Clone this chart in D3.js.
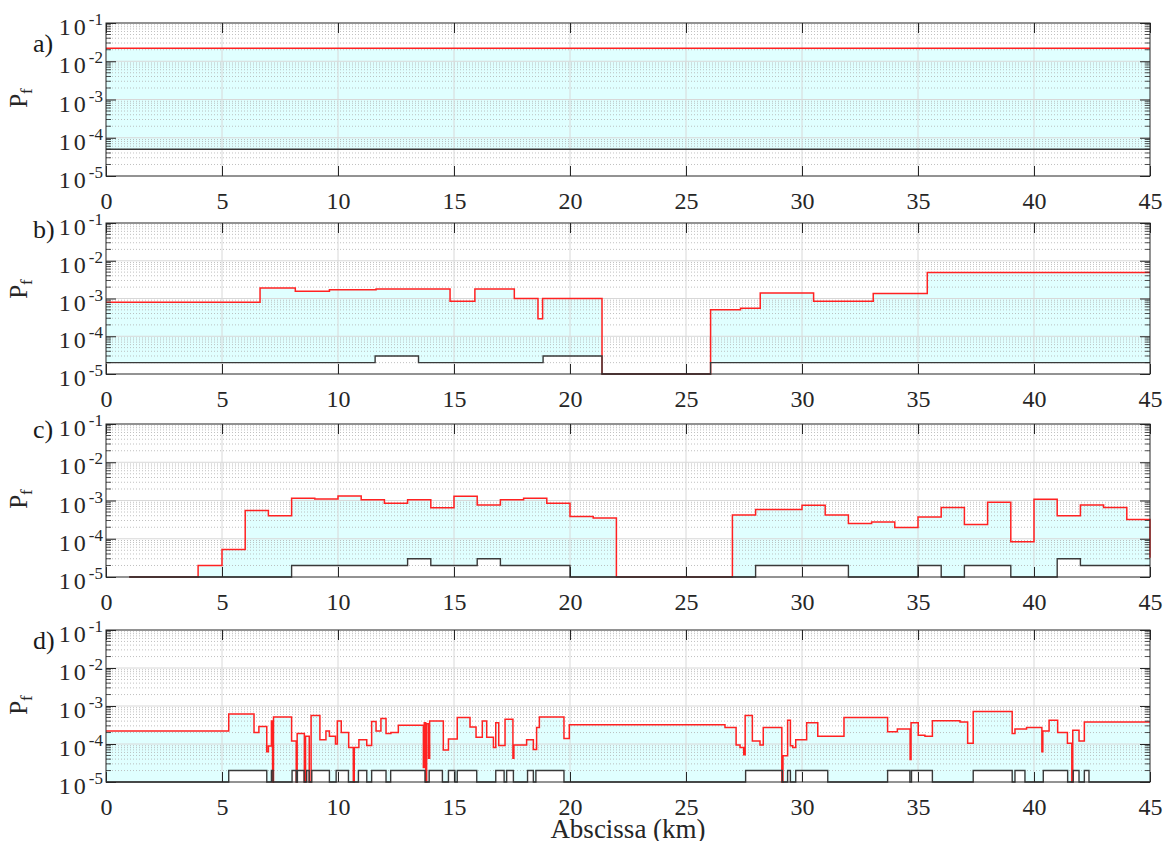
<!DOCTYPE html>
<html>
<head>
<meta charset="utf-8">
<script src="https://cdn.jsdelivr.net/npm/d3@7"></script>
<style>
  body { margin: 0; background: #fff; }
  svg { display: block; }
</style>
</head>
<body>
<svg id="chart" width="1164" height="841"></svg>
<script>
// ---- data (step functions: value holds from x[i] to x[i+1]) ----
const xTicks = [0, 5, 10, 15, 20, 25, 30, 35, 40, 45];
const yTicks = [1e-5, 1e-4, 1e-3, 1e-2, 1e-1];
const yTickExp = ['-5', '-4', '-3', '-2', '-1'];
const panelNames = ['a)', 'b)', 'c)', 'd)'];

// a)
const aRedX = [0, 45];
const aRed = [0.022, 0.022];
const aBlackX = [0, 45];
const aBlack = [5e-5, 5e-5];

// b)
const bRedX = [0, 6.64, 8.16, 9.63, 11.64, 14.83, 15.9, 17.6, 18.62, 18.82, 21.38, 26.06, 27.35, 28.2, 30.5, 33.07, 35.4, 45];
const bRed = [8e-4, 1.9e-3, 1.55e-3, 1.7e-3, 1.78e-3, 8.5e-4, 1.78e-3, 1e-3, 2.9e-4, 1e-3, 1e-5, 5e-4, 5.5e-4, 1.4e-3, 8.5e-4, 1.35e-3, 4.9e-3, 4.9e-3];
const bBlackX = [0, 11.6, 13.47, 18.84, 21.38, 26.06, 45];
const bBlack = [2e-5, 3e-5, 2e-5, 3e-5, 1e-5, 2e-5, 2e-5];

// c)
const cRedX = [1, 3.97, 5, 6, 7, 8, 9, 10, 11, 12, 13, 14, 15, 16, 17, 18, 19, 20, 21, 22, 27, 28, 30, 31, 32, 33, 34, 35, 36, 37, 38, 39, 40, 41, 42, 43, 44, 45];
const cRed = [1e-5, 2e-5, 5.2e-5, 5.5e-4, 4e-4, 1.14e-3, 1.1e-3, 1.32e-3, 1.04e-3, 8.5e-4, 1.04e-3, 6.5e-4, 1.3e-3, 7.6e-4, 1.05e-3, 1.14e-3, 8.5e-4, 3.8e-4, 3.5e-4, 1e-5, 4.2e-4, 5.8e-4, 7.5e-4, 4.2e-4, 2.5e-4, 2.75e-4, 1.96e-4, 3.7e-4, 6.6e-4, 2.35e-4, 9e-4, 8.3e-5, 1.08e-3, 4e-4, 7.6e-4, 6.6e-4, 3.2e-4, 3.2e-5];
const cBlackX = [1, 8, 13, 14, 16, 17, 20, 28, 32, 35, 36, 37, 39, 41, 42, 45];
const cBlack = [1e-5, 2e-5, 3e-5, 2e-5, 3e-5, 2e-5, 1e-5, 2e-5, 1e-5, 2e-5, 1e-5, 2e-5, 1e-5, 3e-5, 2e-5, 2e-5];

// d)
const dRedX = [0, 5.29, 6.38, 6.59, 6.93, 7.0, 7.13, 7.18, 7.22, 8.0, 8.2, 8.24, 8.55, 8.6, 8.76, 8.84, 9.22, 9.48, 9.63, 9.89, 9.97,
  10.14, 10.46, 10.66, 10.7, 10.9, 11.24, 11.45, 11.64, 11.85, 12.07, 12.28, 12.6, 13.68, 13.72, 13.78, 13.82, 13.9, 13.95,
  14.54, 14.76, 15.14, 15.69, 15.95, 16.22, 16.41, 16.7, 16.8, 16.93, 17.2, 17.54, 17.58, 18.13, 18.42, 18.56, 18.68, 19.74, 19.97,
  26.68, 27.16, 27.33, 27.49, 27.55, 27.86, 28.19, 28.33, 29.13, 29.18, 29.38, 29.5, 29.6, 29.73, 30.2, 30.68, 31.81,
  33.69, 34.11, 34.66, 34.7, 35.01, 35.3, 35.62, 36.81, 37.14, 37.38, 39.06, 39.18, 39.68, 40.34, 40.38, 40.65, 41.02,
  41.44, 41.63, 41.67, 41.94, 42.17, 45];
const dRed = [2.2e-4, 6.2e-4, 2e-4, 2.9e-4, 6.3e-5, 8.9e-5, 4e-4, 1e-5, 5.1e-4, 1.2e-4, 1e-5, 1.9e-4, 1e-5, 1.6e-4, 1e-5, 5.6e-4, 1.3e-4, 2.2e-4, 1.6e-4, 1e-4, 4e-4,
  2e-4, 8.1e-5, 1e-5, 8.1e-5, 1.3e-4, 9.2e-5, 3.9e-4, 2.2e-4, 4.7e-4, 1.9e-4, 2e-4, 3.1e-4, 2.4e-5, 3.6e-4, 1e-5, 3.4e-4, 4.2e-5, 4e-4,
  7e-5, 1.35e-4, 5e-4, 2.8e-4, 1.5e-4, 4e-4, 1.5e-4, 8.1e-5, 3.6e-4, 9.2e-5, 4.5e-4, 4.2e-5, 9.4e-5, 1.3e-4, 7.2e-5, 2.7e-4, 5.1e-4, 1.4e-4, 3.2e-4,
  2.7e-4, 9.4e-5, 8.1e-5, 5.2e-5, 5.6e-4, 1.2e-4, 9.4e-5, 2.7e-4, 1e-5, 4.9e-5, 4.2e-4, 9e-5, 8.1e-5, 1.3e-4, 3.6e-4, 1.6e-4, 5e-4,
  2.1e-4, 2.5e-4, 3.9e-5, 3.6e-4, 1.7e-4, 1.6e-4, 4.1e-4, 3.8e-4, 1.05e-4, 7.2e-4, 1.9e-4, 2.5e-4, 2.7e-4, 6.3e-5, 2.2e-4, 4.2e-4, 2e-4,
  1.05e-4, 1e-5, 2.3e-4, 1.2e-4, 3.8e-4, 3.8e-4];
const dBlackX = [0, 5.29, 6.93, 7.13, 7.2, 8.02, 8.2, 8.25, 8.54, 8.65, 8.76, 8.87, 9.63, 9.92, 10.45, 10.88, 11.24, 11.45, 12.07,
  12.27, 13.75, 13.93, 14.5, 14.76, 15.04, 15.14, 15.98, 16.8, 17.16, 17.27, 17.56, 18.17, 18.42, 18.53, 19.74,
  27.57, 29.15, 29.38, 29.5, 29.73, 31.11, 33.69, 34.65, 34.72, 35.62, 37.38, 39.06, 39.18, 39.61, 40.4, 41.45,
  41.69, 41.94, 42.17, 42.37, 45];
const dBlack = [1e-5, 2e-5, 1e-5, 2e-5, 1e-5, 2e-5, 1e-5, 2e-5, 1e-5, 2e-5, 1e-5, 2e-5, 1e-5, 2e-5, 1e-5, 2e-5, 1e-5, 2e-5, 1e-5,
  2e-5, 1e-5, 2e-5, 1e-5, 2e-5, 1e-5, 2e-5, 1e-5, 2e-5, 1e-5, 2e-5, 1e-5, 2e-5, 1e-5, 2e-5, 1e-5,
  2e-5, 1e-5, 2e-5, 1e-5, 2e-5, 1e-5, 2e-5, 1e-5, 2e-5, 1e-5, 2e-5, 1e-5, 2e-5, 1e-5, 2e-5, 1e-5,
  2e-5, 1e-5, 2e-5, 1e-5, 1e-5];

const series = [
  {redX: aRedX, red: aRed, blackX: aBlackX, black: aBlack},
  {redX: bRedX, red: bRed, blackX: bBlackX, black: bBlack},
  {redX: cRedX, red: cRed, blackX: cBlackX, black: cBlack},
  {redX: dRedX, red: dRed, blackX: dBlackX, black: dBlack}
];

// ---- layout ----
const left = 106, right = 1150;
const serif = "'Liberation Serif', 'DejaVu Serif', serif";
const layout = [
  {top: 23, bottom: 176, labelY: 52, pfY: 98},
  {top: 223, bottom: 374, labelY: 238, pfY: 289},
  {top: 424, bottom: 577, labelY: 438, pfY: 499},
  {top: 630, bottom: 782, labelY: 649, pfY: 705}
];

const svg = d3.select('#chart').attr('font-family', serif);
const x = d3.scaleLinear().domain([0, 45]).range([left, right]);

function stepAt(xs, vs, xv) {
  let v = null;
  for (let i = 0; i < xs.length; i++) {
    if (xs[i] <= xv) v = vs[i];
  }
  return v;
}

series.forEach((s, i) => {
  const L = layout[i];
  const y = d3.scaleLog().domain([1e-5, 1e-1]).range([L.bottom, L.top]);
  const g = svg.append('g');

  // fill between black (lower) and red (upper)
  const xs = Array.from(new Set(s.redX.concat(s.blackX))).sort((a, b) => a - b);
  const start = Math.max(s.redX[0], s.blackX[0]);
  const band = xs.filter(v => v >= start).map(v => ({
    x: v, lo: stepAt(s.blackX, s.black, v), hi: stepAt(s.redX, s.red, v)
  }));
  const area = d3.area()
    .x(d => x(d.x))
    .y0(d => y(d.lo))
    .y1(d => y(d.hi))
    .curve(d3.curveStepAfter);
  g.append('path').datum(band)
    .attr('d', area)
    .attr('fill', '#e0ffff')
    .attr('stroke', 'none');

  // grid
  const minor = [];
  for (let e = -5; e < -1; e++) {
    for (let k = 2; k <= 9; k++) minor.push(k * Math.pow(10, e));
  }
  g.append('g').selectAll('line').data(minor).join('line')
    .attr('x1', left).attr('x2', right)
    .attr('y1', d => y(d)).attr('y2', d => y(d))
    .attr('stroke', '#b0b0b0').attr('stroke-width', 0.8)
    .attr('stroke-dasharray', '1,2');
  g.append('g').selectAll('line').data(yTicks.slice(1, -1)).join('line')
    .attr('x1', left).attr('x2', right)
    .attr('y1', d => y(d)).attr('y2', d => y(d))
    .attr('stroke', '#d8d8d8').attr('stroke-width', 1);
  g.append('g').selectAll('line').data(xTicks.slice(1, -1)).join('line')
    .attr('x1', d => x(d)).attr('x2', d => x(d))
    .attr('y1', L.top).attr('y2', L.bottom)
    .attr('stroke', '#d8d8d8').attr('stroke-width', 1);

  // step lines
  const line = d3.line()
    .x(d => x(d[0]))
    .y(d => y(d[1]))
    .curve(d3.curveStepAfter);
  g.append('path').datum(d3.zip(s.redX, s.red))
    .attr('d', line)
    .attr('fill', 'none')
    .attr('stroke', '#ff2222')
    .attr('stroke-width', 1.5);
  g.append('path').datum(d3.zip(s.blackX, s.black))
    .attr('d', line)
    .attr('fill', 'none')
    .attr('stroke', '#3a3a3a')
    .attr('stroke-width', 1.4);

  // axes box with inward ticks
  const axisColor = '#262626';
  g.append('rect')
    .attr('x', left).attr('y', L.top)
    .attr('width', right - left).attr('height', L.bottom - L.top)
    .attr('fill', 'none').attr('stroke', axisColor).attr('stroke-width', 1);

  const xAxisB = d3.axisBottom(x).tickValues(xTicks).tickSizeInner(-10).tickSizeOuter(0).tickFormat(d3.format('d'));
  const gxb = g.append('g').attr('transform', `translate(0,${L.bottom})`).call(xAxisB);
  gxb.attr('font-family', serif).attr('font-size', 24);
  gxb.select('.domain').remove();
  gxb.selectAll('line').attr('stroke', axisColor);
  gxb.selectAll('text')
    .attr('y', 33).attr('dy', 0)
    .attr('fill', '#262626');

  const xAxisT = d3.axisTop(x).tickValues(xTicks).tickSizeInner(-10).tickSizeOuter(0).tickFormat('');
  const gxt = g.append('g').attr('transform', `translate(0,${L.top})`).call(xAxisT);
  gxt.select('.domain').remove();
  gxt.selectAll('line').attr('stroke', axisColor);

  const yAxisL = d3.axisLeft(y).tickValues(yTicks).tickSizeInner(-10).tickSizeOuter(0).tickFormat('');
  const gyl = g.append('g').attr('transform', `translate(${left},0)`).call(yAxisL);
  gyl.select('.domain').remove();
  gyl.selectAll('line').attr('stroke', axisColor);
  const yAxisR = d3.axisRight(y).tickValues(yTicks).tickSizeInner(-10).tickSizeOuter(0).tickFormat('');
  const gyr = g.append('g').attr('transform', `translate(${right},0)`).call(yAxisR);
  gyr.select('.domain').remove();
  gyr.selectAll('line').attr('stroke', axisColor);

  // minor y ticks
  g.append('g').selectAll('line').data(minor).join('line')
    .attr('x1', left).attr('x2', left + 5)
    .attr('y1', d => y(d)).attr('y2', d => y(d))
    .attr('stroke', axisColor).attr('stroke-width', 0.8);
  g.append('g').selectAll('line').data(minor).join('line')
    .attr('x1', right - 5).attr('x2', right)
    .attr('y1', d => y(d)).attr('y2', d => y(d))
    .attr('stroke', axisColor).attr('stroke-width', 0.8);

  // y tick labels 10^n
  const yl = g.append('g').selectAll('text').data(yTicks).join('text')
    .attr('x', 103)
    .attr('y', d => y(d) + 12)
    .attr('text-anchor', 'end')
    .attr('fill', '#262626')
    .attr('font-size', 24);
  yl.append('tspan').text('10').attr('letter-spacing', 3);
  yl.append('tspan').text((d, j) => yTickExp[j])
    .attr('font-size', 17)
    .attr('dy', -10);

  // y label P_f
  const pf = g.append('text')
    .attr('transform', `translate(27,${L.pfY}) rotate(-90)`)
    .attr('text-anchor', 'middle')
    .attr('fill', '#262626')
    .attr('font-size', 25);
  pf.append('tspan').text('P');
  pf.append('tspan').text('f').attr('font-size', 17).attr('dy', 5);

  // panel label
  g.append('text')
    .attr('x', 33).attr('y', L.labelY)
    .attr('fill', '#1a1a1a')
    .attr('font-size', 26)
    .text(panelNames[i]);
});

svg.append('text')
  .attr('x', (left + right) / 2)
  .attr('y', 838)
  .attr('text-anchor', 'middle')
  .attr('fill', '#262626')
  .attr('font-size', 27)
  .text('Abscissa (km)');
</script>
</body>
</html>
